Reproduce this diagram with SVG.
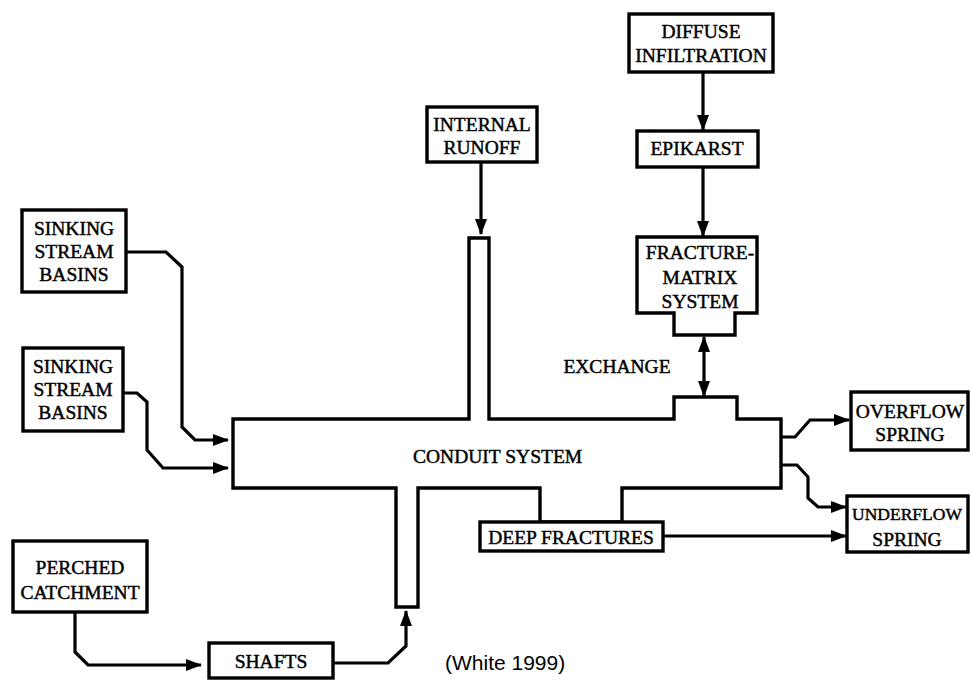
<svg xmlns="http://www.w3.org/2000/svg" width="971" height="680" viewBox="0 0 971 680">
<defs>
<marker id="ah" markerUnits="userSpaceOnUse" markerWidth="16" markerHeight="12" refX="15" refY="6" orient="auto-start-reverse">
<path d="M0,0 L16,6 L0,12 Z" fill="#000"/>
</marker>
</defs>
<style>
.box{fill:#fff;stroke:#000;stroke-width:3.4}
.arr{fill:none;stroke:#000;stroke-width:3.2;marker-end:url(#ah)}
.t{font-family:"Liberation Serif","Times New Roman",serif;font-size:19.5px;fill:#000;text-anchor:middle;stroke:#000;stroke-width:0.45}
.s{font-family:"Liberation Sans",Arial,sans-serif;font-size:21px;fill:#000}
</style>
<rect width="971" height="680" fill="#fff"/>
<g id="connectors">
<path class="arr" d="M126,252 H166 L182,267 V427 L195,440 H228"/>
<path class="arr" d="M123,393 H137 L147,402 V450 L163,468 H228"/>
<path class="arr" d="M75,612 V652 L88,665 H201"/>
<path class="arr" d="M333,663 H388 L406,646 V611"/>
<path class="arr" d="M481,162 V234"/>
<path class="arr" d="M703,72 V130"/>
<path class="arr" d="M703,167 V236"/>
<path class="arr" d="M704,337 V396" style="marker-start:url(#ah)"/>
<path class="arr" d="M781,437 H795 L810,420 H849"/>
<path class="arr" d="M781,465 H797 L808,477 V498 L818,507 H846"/>
<path class="arr" d="M663,536 H846"/>
</g>
<g id="conduit">
<path class="box" d="M233,419 H469 V238 H489 V419 H674 V397 H737 V419 H781 V488 H622 V522 H540 V488 H418 V607 H396 V488 H233 Z"/>
<text class="t" x="413" y="463" style="text-anchor:start">CONDUIT SYSTEM</text>
</g>
<g id="diffuse">
<rect class="box" x="629" y="14" width="144" height="58"/>
<text class="t" x="701" y="38">DIFFUSE</text>
<text class="t" x="701" y="62">INFILTRATION</text>
</g>
<g id="epikarst">
<rect class="box" x="637" y="131" width="121" height="36"/>
<text class="t" x="697" y="155">EPIKARST</text>
</g>
<g id="fracture">
<path class="box" d="M637,237 H757 V313 H735 V335 H674 V313 H637 Z"/>
<text class="t" x="700" y="259">FRACTURE-</text>
<text class="t" x="700" y="284">MATRIX</text>
<text class="t" x="700" y="308">SYSTEM</text>
</g>
<g id="exchange">
<text class="t" x="617" y="373">EXCHANGE</text>
</g>
<g id="internal">
<rect class="box" x="427" y="107" width="110" height="55"/>
<text class="t" x="482" y="131">INTERNAL</text>
<text class="t" x="482" y="154">RUNOFF</text>
</g>
<g id="sinking1">
<rect class="box" x="22" y="210" width="104" height="82"/>
<text class="t" x="74" y="235">SINKING</text>
<text class="t" x="74" y="258">STREAM</text>
<text class="t" x="74" y="281">BASINS</text>
</g>
<g id="sinking2">
<rect class="box" x="23" y="348" width="100" height="83"/>
<text class="t" x="73" y="373">SINKING</text>
<text class="t" x="73" y="396">STREAM</text>
<text class="t" x="73" y="419">BASINS</text>
</g>
<g id="perched">
<rect class="box" x="13" y="541" width="134" height="71"/>
<text class="t" x="80" y="574">PERCHED</text>
<text class="t" x="80" y="599">CATCHMENT</text>
</g>
<g id="shafts">
<rect class="box" x="209" y="643" width="124" height="35"/>
<text class="t" x="271" y="668">SHAFTS</text>
</g>
<g id="deep">
<rect class="box" x="480" y="522" width="183" height="29"/>
<text class="t" x="571" y="544">DEEP FRACTURES</text>
</g>
<g id="overflow">
<rect class="box" x="851" y="392" width="117" height="58"/>
<text class="t" x="910" y="418">OVERFLOW</text>
<text class="t" x="910" y="441">SPRING</text>
</g>
<g id="underflow">
<rect class="box" x="847" y="496" width="121" height="56"/>
<text class="t" x="907" y="520" style="font-size:17.5px">UNDERFLOW</text>
<text class="t" x="907" y="546">SPRING</text>
</g>
<text class="s" x="445" y="670">(White 1999)</text>
</svg>
